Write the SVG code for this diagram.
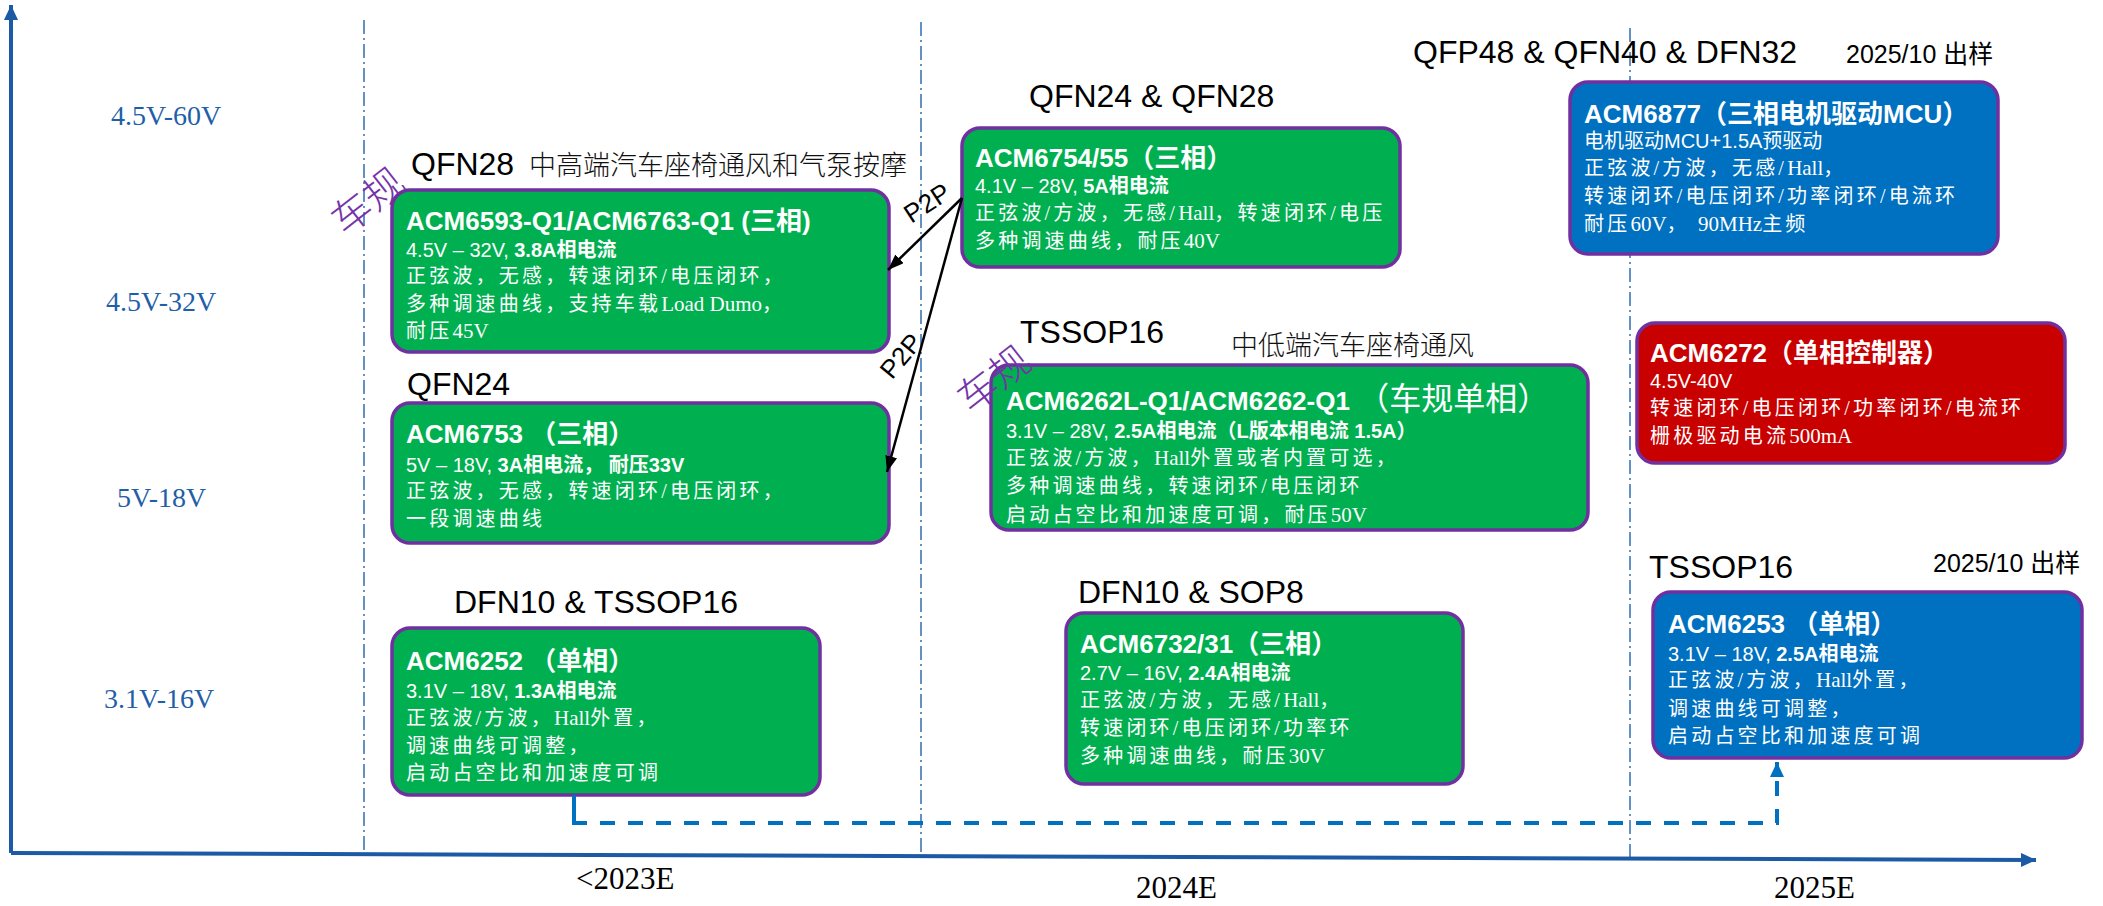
<svg xmlns="http://www.w3.org/2000/svg" width="2103" height="906" viewBox="0 0 2103 906">
<defs>
<style>
.box{stroke:#7030A0;stroke-width:3.5}
.g{fill:#00B050}
.b{fill:#0070C0}
.r{fill:#C90000}
.t{font-family:"Liberation Sans","Noto Sans CJK SC",sans-serif;font-weight:bold;font-size:26px;fill:#fff}
.s{font-family:"Liberation Sans","Noto Sans CJK SC",sans-serif;font-size:20px;fill:#fff}
.bd{font-weight:bold}
.c{font-family:"Liberation Serif","Noto Sans CJK SC",serif;font-size:20px;letter-spacing:3.2px;fill:#fff}
.lat{font-size:21px;letter-spacing:0}
.pkg{font-family:"Liberation Sans",sans-serif;font-size:32px;fill:#000}
.note{font-family:"Noto Sans CJK SC",sans-serif;font-size:27px;font-weight:300;fill:#111}
.date{font-family:"Liberation Sans","Noto Sans CJK SC",sans-serif;font-size:25px;fill:#000}
.ylab{font-family:"Liberation Serif",serif;font-size:28px;fill:#1F5FA8}
.xlab{font-family:"Liberation Serif",serif;font-size:31px;fill:#000}
.cg{font-family:"Noto Sans CJK SC",sans-serif;font-size:40px;font-weight:300;fill:#7434A8}
.p2p{font-family:"Liberation Sans",sans-serif;font-size:26px;fill:#000}
.grid{stroke:#2E6DB4;stroke-width:1.5;stroke-dasharray:14 4 2 4;fill:none}
.axis{stroke:#1D5AA5;stroke-width:4;fill:none}
.dash{stroke:#0070C0;stroke-width:4;fill:none;stroke-dasharray:15 13}
.arr{stroke:#000;stroke-width:2.5;fill:none}
</style>
<marker id="ah" markerUnits="userSpaceOnUse" markerWidth="16" markerHeight="12" refX="16" refY="6" orient="auto"><path d="M0,0 L16,6 L0,12 z" fill="#000"/></marker>
<marker id="ax" markerUnits="userSpaceOnUse" markerWidth="15" markerHeight="14" refX="15" refY="7" orient="auto"><path d="M0,0 L15,7 L0,14 z" fill="#1D5AA5"/></marker>
<marker id="bh" markerUnits="userSpaceOnUse" markerWidth="15" markerHeight="14" refX="15" refY="7" orient="auto"><path d="M0,0 L15,7 L0,14 z" fill="#0070C0"/></marker>
</defs>
<rect width="2103" height="906" fill="#fff"/>

<g id="grid">
<line class="grid" x1="364" y1="20" x2="364" y2="852"/>
<line class="grid" x1="921" y1="22" x2="921" y2="855"/>
<line class="grid" x1="1630" y1="28" x2="1630" y2="858"/>
</g>

<g id="axes">
<line class="axis" x1="11" y1="853" x2="11" y2="5" marker-end="url(#ax)"/>
<line class="axis" x1="11" y1="853" x2="2036" y2="860" marker-end="url(#ax)"/>
<text class="ylab" x="111" y="125">4.5V-60V</text>
<text class="ylab" x="106" y="311">4.5V-32V</text>
<text class="ylab" x="117" y="507">5V-18V</text>
<text class="ylab" x="104" y="708">3.1V-16V</text>
<text class="xlab" x="576" y="889">&lt;2023E</text>
<text class="xlab" x="1136" y="898">2024E</text>
<text class="xlab" x="1774" y="898">2025E</text>
</g>

<g id="acm6593">
<text class="pkg" x="411" y="175">QFN28</text>
<text class="note" x="529" y="175">中高端汽车座椅通风和气泵按摩</text>
<text class="cg" x="366" y="199" text-anchor="middle" dominant-baseline="central" transform="rotate(-38 366 199)">车规</text>
<rect class="box g" x="392" y="190" width="497" height="162" rx="18"/>
<text class="t" x="406" y="230">ACM6593-Q1/ACM6763-Q1 (三相)</text>
<text class="s" x="406" y="257">4.5V – 32V, <tspan class="bd">3.8A相电流</tspan></text>
<text class="c" x="406" y="283">正弦波，无感，转速闭环/电压闭环，</text>
<text class="c" x="406" y="311">多种调速曲线，支持车载<tspan class="lat">Load Dumo</tspan>，</text>
<text class="c" x="406" y="338">耐压<tspan class="lat">45V</tspan></text>
</g>

<g id="acm6753">
<text class="pkg" x="407" y="395">QFN24</text>
<rect class="box g" x="392" y="403" width="497" height="140" rx="18"/>
<text class="t" x="406" y="443">ACM6753 （三相）</text>
<text class="s" x="406" y="472">5V – 18V, <tspan class="bd">3A相电流，  耐压33V</tspan></text>
<text class="c" x="406" y="498">正弦波，无感，转速闭环/电压闭环，</text>
<text class="c" x="406" y="526">一段调速曲线</text>
</g>

<g id="acm6252">
<text class="pkg" x="454" y="613">DFN10 &amp; TSSOP16</text>
<rect class="box g" x="392" y="628" width="428" height="167" rx="18"/>
<text class="t" x="406" y="670">ACM6252 （单相）</text>
<text class="s" x="406" y="698">3.1V – 18V, <tspan class="bd">1.3A相电流</tspan></text>
<text class="c" x="406" y="725">正弦波/方波，<tspan class="lat">Hall</tspan>外置，</text>
<text class="c" x="406" y="753">调速曲线可调整，</text>
<text class="c" x="406" y="780">启动占空比和加速度可调</text>
</g>

<g id="acm6754">
<text class="pkg" x="1029" y="107">QFN24 &amp; QFN28</text>
<rect class="box g" x="962" y="128" width="438" height="139" rx="18"/>
<text class="t" x="975" y="167">ACM6754/55（三相）</text>
<text class="s" x="975" y="193">4.1V – 28V, <tspan class="bd">5A相电流</tspan></text>
<text class="c" x="975" y="220">正弦波/方波，无感/<tspan class="lat">Hall</tspan>，转速闭环/电压</text>
<text class="c" x="975" y="248">多种调速曲线，耐压<tspan class="lat">40V</tspan></text>
</g>

<g id="acm6262">
<text class="pkg" x="1020" y="343">TSSOP16</text>
<text class="note" x="1231" y="355">中低端汽车座椅通风</text>
<rect class="box g" x="991" y="365" width="597" height="165" rx="18"/>
<text class="cg" x="992" y="377" text-anchor="middle" dominant-baseline="central" transform="rotate(-38 992 377)">车规</text>
<text class="t" x="1006" y="410">ACM6262L-Q1/ACM6262-Q1 <tspan font-size="32" font-weight="normal">（车规单相）</tspan></text>
<text class="s" x="1006" y="438">3.1V – 28V, <tspan class="bd">2.5A相电流（L版本相电流 1.5A）</tspan></text>
<text class="c" x="1006" y="465">正弦波/方波，<tspan class="lat">Hall</tspan>外置或者内置可选，</text>
<text class="c" x="1006" y="493">多种调速曲线，转速闭环/电压闭环</text>
<text class="c" x="1006" y="522">启动占空比和加速度可调，耐压<tspan class="lat">50V</tspan></text>
</g>

<g id="acm6732">
<text class="pkg" x="1078" y="603">DFN10 &amp; SOP8</text>
<rect class="box g" x="1066" y="613" width="397" height="171" rx="18"/>
<text class="t" x="1080" y="653">ACM6732/31（三相）</text>
<text class="s" x="1080" y="680">2.7V – 16V, <tspan class="bd">2.4A相电流</tspan></text>
<text class="c" x="1080" y="707">正弦波/方波，无感/<tspan class="lat">Hall</tspan>，</text>
<text class="c" x="1080" y="735">转速闭环/电压闭环/功率环</text>
<text class="c" x="1080" y="763">多种调速曲线，耐压<tspan class="lat">30V</tspan></text>
</g>

<g id="acm6877">
<text class="pkg" x="1413" y="63">QFP48 &amp; QFN40 &amp; DFN32</text>
<text class="date" x="1846" y="63">2025/10 出样</text>
<rect class="box b" x="1570" y="82" width="428" height="172" rx="18"/>
<text class="t" x="1584" y="123">ACM6877（三相电机驱动MCU）</text>
<text class="s" x="1584" y="148">电机驱动MCU+1.5A预驱动</text>
<text class="c" x="1584" y="175">正弦波/方波，无感/<tspan class="lat">Hall</tspan>，</text>
<text class="c" x="1584" y="203">转速闭环/电压闭环/功率闭环/电流环</text>
<text class="c" x="1584" y="231">耐压<tspan class="lat">60V</tspan>，  <tspan class="lat">90MHz</tspan>主频</text>
</g>

<g id="acm6272">
<rect class="box r" x="1637" y="323" width="428" height="140" rx="18"/>
<text class="t" x="1650" y="362">ACM6272（单相控制器）</text>
<text class="s" x="1650" y="388">4.5V-40V</text>
<text class="c" x="1650" y="415">转速闭环/电压闭环/功率闭环/电流环</text>
<text class="c" x="1650" y="443">栅极驱动电流<tspan class="lat">500mA</tspan></text>
</g>

<g id="acm6253">
<text class="pkg" x="1649" y="578">TSSOP16</text>
<text class="date" x="1933" y="572">2025/10 出样</text>
<rect class="box b" x="1653" y="592" width="429" height="166" rx="18"/>
<text class="t" x="1668" y="633">ACM6253 （单相）</text>
<text class="s" x="1668" y="661">3.1V – 18V, <tspan class="bd">2.5A相电流</tspan></text>
<text class="c" x="1668" y="687">正弦波/方波，<tspan class="lat">Hall</tspan>外置，</text>
<text class="c" x="1668" y="716">调速曲线可调整，</text>
<text class="c" x="1668" y="743">启动占空比和加速度可调</text>
</g>

<g id="connectors">
<line class="arr" x1="962" y1="198" x2="888" y2="270" marker-end="url(#ah)"/>
<line class="arr" x1="962" y1="198" x2="887" y2="472" marker-end="url(#ah)"/>
<text class="p2p" x="927" y="203" text-anchor="middle" dominant-baseline="central" transform="rotate(-33 927 203)">P2P</text>
<text class="p2p" x="901" y="356" text-anchor="middle" dominant-baseline="central" transform="rotate(-50 901 356)">P2P</text>
<line x1="574" y1="795" x2="574" y2="823" stroke="#0070C0" stroke-width="4"/>
<path class="dash" d="M572,823 H1777 V762" marker-end="url(#bh)"/>
</g>
</svg>
